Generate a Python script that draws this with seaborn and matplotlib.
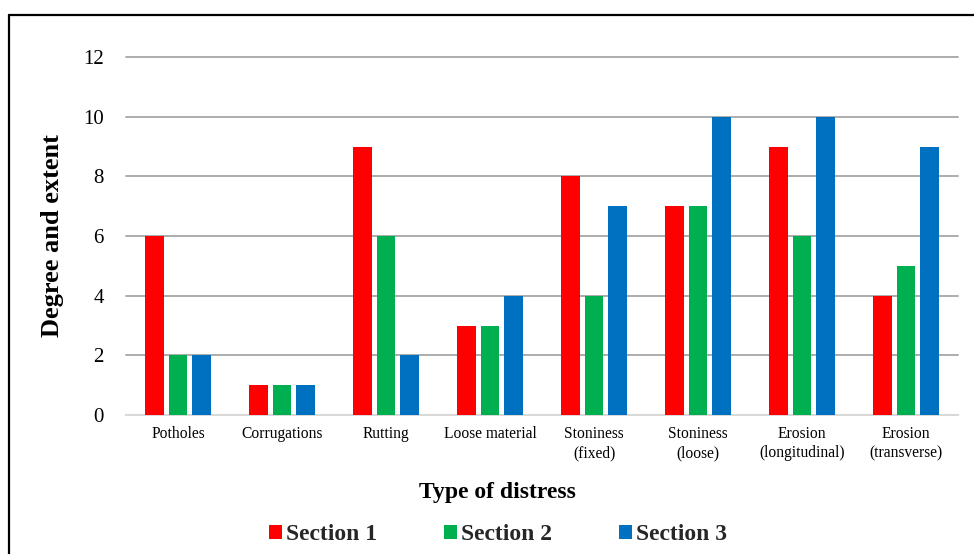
import matplotlib
matplotlib.use("Agg")
import matplotlib.pyplot as plt
from matplotlib.lines import Line2D
import seaborn as sns
import pandas as pd

# Distress categories and ratings per road section
categories = ["Potholes", "Corrugations", "Rutting", "Loose material",
              "Stoniness\n(fixed)", "Stoniness\n(loose)",
              "Erosion\n(longitudinal)", "Erosion\n(transverse)"]
section_1 = [6, 1, 9, 3, 8, 7, 9, 4]
section_2 = [2, 1, 6, 3, 4, 7, 6, 5]
section_3 = [2, 1, 2, 4, 7, 10, 10, 9]
series_names = ["Section 1", "Section 2", "Section 3"]
y_ticks = [0, 2, 4, 6, 8, 10, 12]

colors = ["#FF0000", "#00B050", "#0070C0"]

df = pd.DataFrame({
    "Type": categories * 3,
    "Section": sum([[n] * len(categories) for n in series_names], []),
    "Value": section_1 + section_2 + section_3,
})

sns.set_theme(style="white")
plt.rcParams["font.family"] = ["Liberation Serif", "DejaVu Serif"]

W, H = 974, 554
fig = plt.figure(figsize=(W / 100, H / 100), dpi=100)
ax = fig.add_axes([126 / W, (H - 415) / H, (958 - 126) / W, (415 - 57) / H])

sns.barplot(data=df, x="Type", y="Value", hue="Section", order=categories,
            hue_order=series_names, palette=colors, width=0.67, gap=0.2,
            saturation=1, ax=ax, linewidth=0)

ax.set_ylim(0, 12)
ax.set_yticks(y_ticks)
ax.set_xlim(-0.5, len(categories) - 0.5)
ax.yaxis.grid(True, color="#A6A6A6", linewidth=1.3)
for gl in ax.get_ygridlines():
    gl.set_clip_on(False)
ax.set_axisbelow(True)
for s in ["top", "right", "left"]:
    ax.spines[s].set_visible(False)
ax.spines["bottom"].set_color("#D9D9D9")
ax.spines["bottom"].set_linewidth(1.5)
ax.spines["bottom"].set_zorder(0.6)

ax.tick_params(axis="y", labelsize=15, pad=16, length=0, labelcolor="black")
ax.tick_params(axis="x", labelsize=11.2, pad=8, length=0, labelcolor="black")
for lab in ax.get_xticklabels():
    lab.set_linespacing(1.25)

ax.set_ylabel("Degree and extent", fontsize=19, fontweight="bold", color="black")
ax.yaxis.set_label_coords(-0.075, 0.5)
ax.set_xlabel("Type of distress", fontsize=17, fontweight="bold", color="black")
ax.xaxis.set_label_coords(0.446, -0.186)

handles, labels = ax.get_legend_handles_labels()
ax.legend_.remove()
fig.legend(handles, labels, loc="center", bbox_to_anchor=(498 / W, (H - 535) / H),
           ncol=3, frameon=False, prop={"size": 17, "weight": "bold"},
           handlelength=0.55, handleheight=0.55, handletextpad=0.2,
           columnspacing=2.8)

# Outer frame (top and left edges visible)
fig.add_artist(Line2D([9 / W, 1.0], [(H - 15) / H] * 2, color="black",
                      linewidth=1.6, transform=fig.transFigure))
fig.add_artist(Line2D([9 / W] * 2, [0.0, (H - 15) / H], color="black",
                      linewidth=1.6, transform=fig.transFigure))

fig.savefig("out.png", dpi=100, facecolor="white")
